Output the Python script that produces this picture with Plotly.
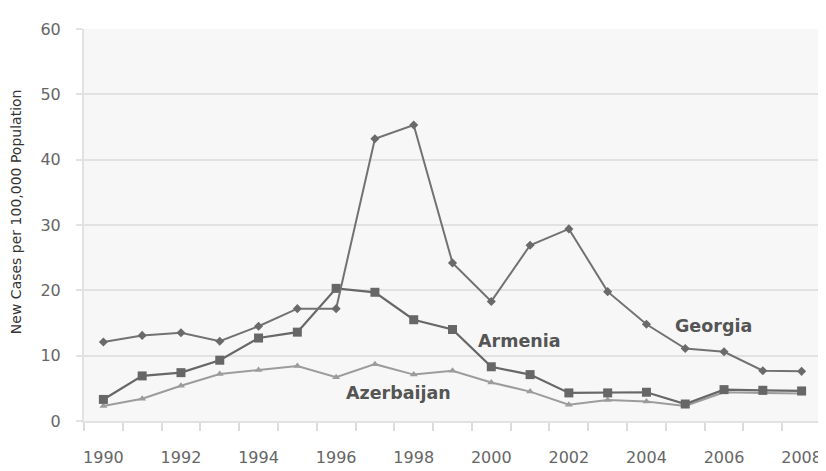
import plotly.graph_objects as go

years = list(range(1990, 2009))
georgia = [12.1, 13.1, 13.5, 12.2, 14.5, 17.2, 17.2, 43.2, 45.3, 24.2,
           18.3, 26.9, 29.4, 19.8, 14.8, 11.1, 10.6, 7.7, 7.6]
armenia = [3.3, 6.9, 7.4, 9.3, 12.7, 13.6, 20.3, 19.7, 15.5, 14.0,
           8.3, 7.1, 4.3, 4.3, 4.4, 2.6, 4.8, 4.7, 4.6]
azerbaijan = [2.3, 3.4, 5.4, 7.2, 7.8, 8.4, 6.7, 8.7, 7.1, 7.7,
              5.9, 4.5, 2.5, 3.2, 3.0, 2.3, 4.4, 4.3, 4.2]

x_labels = list(range(1990, 2009, 2))
y_ticks = [0, 10, 20, 30, 40, 50, 60]
minor_ticks = [y - 0.5 for y in range(1990, 2010)]

fig = go.Figure()
fig.add_trace(go.Scatter(x=years, y=azerbaijan, mode="lines+markers", name="Azerbaijan",
                         line=dict(color="#9c9c9c", width=2),
                         marker=dict(symbol="triangle-up", size=7, color="#9c9c9c")))
fig.add_trace(go.Scatter(x=years, y=armenia, mode="lines+markers", name="Armenia",
                         line=dict(color="#676767", width=2.2),
                         marker=dict(symbol="square", size=9, color="#676767")))
fig.add_trace(go.Scatter(x=years, y=georgia, mode="lines+markers", name="Georgia",
                         line=dict(color="#727272", width=2),
                         marker=dict(symbol="diamond", size=7, color="#6a6a6a")))

lab_font = dict(family="DejaVu Sans", size=17.5, color="#555555")
fig.add_annotation(x=2005.72, y=14.5, text="<b>Georgia</b>", showarrow=False, font=lab_font)
fig.add_annotation(x=2000.73, y=12.3, text="<b>Armenia</b>", showarrow=False, font=lab_font)
fig.add_annotation(x=1997.62, y=4.3, text="<b>Azerbaijan</b>", showarrow=False, font=lab_font)

fig.add_annotation(xref="paper", yref="paper", x=-0.093, y=0.534,
                   text="New Cases per 100,000 Population", textangle=-90,
                   showarrow=False, xanchor="center", yanchor="middle",
                   font=dict(family="DejaVu Sans", size=14, color="#333333"))

fig.update_layout(
    width=826, height=471,
    margin=dict(l=75.5, r=12, t=17.5, b=57.3),
    paper_bgcolor="white", plot_bgcolor="#f7f7f7",
    showlegend=False,
    xaxis=dict(range=[1989.5, 2008.5], tickmode="array", tickvals=x_labels,
               ticktext=[str(v) for v in x_labels], ticks="", showgrid=False,
               zeroline=False, showline=True, linecolor="#e2e2e2", linewidth=2,
               tickfont=dict(family="DejaVu Sans", size=16, color="#666666"),
               ticklabelstandoff=21,
               minor=dict(tickmode="array", tickvals=minor_ticks, ticks="outside",
                          ticklen=8, tickcolor="#dcdcdc", tickwidth=1.5, showgrid=False)),
    yaxis=dict(range=[0, 60], tickmode="array", tickvals=y_ticks, ticks="outside",
               ticklen=6, tickcolor="#e2e2e2", tickwidth=2,
               showgrid=True, gridcolor="#e2e2e2", gridwidth=2, zeroline=False,
               showline=True, linecolor="#e2e2e2", linewidth=2,
               tickfont=dict(family="DejaVu Sans", size=16, color="#666666"),
               ticklabelstandoff=12),
)

fig.write_html("out.html")
